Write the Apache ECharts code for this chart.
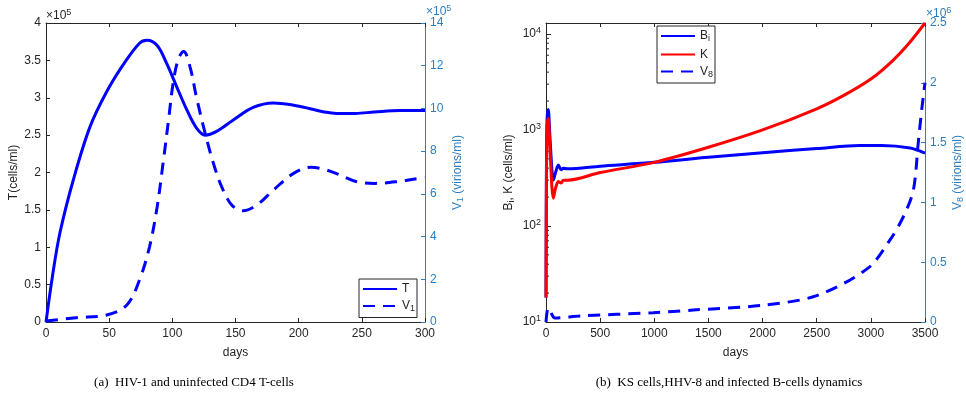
<!DOCTYPE html>
<html>
<head>
<meta charset="utf-8">
<script src="https://cdn.jsdelivr.net/npm/echarts@6/dist/echarts.min.js"></script>
<style>
html,body{margin:0;padding:0;background:#fff;}
#c{width:966px;height:401px;}
</style>
</head>
<body>
<div id="c"></div>
<script>
// ---------- Panel (a) data ----------
const A_X_TICKS = [0, 300, 50];            // min, max, interval (days)
const T_DAYS  = [0, 5, 11, 21.6, 34.8, 48, 61, 74, 80, 88, 95.5, 103.4, 111.4, 119.3, 126, 135, 148, 164, 180, 196, 210, 220, 230, 245, 260, 280, 300];
const T_VALS  = [0, 0.6, 1.19, 1.90, 2.61, 3.08, 3.44, 3.73, 3.77, 3.70, 3.46, 3.15, 2.84, 2.59, 2.50, 2.55, 2.70, 2.87, 2.93, 2.90, 2.85, 2.81, 2.79, 2.79, 2.81, 2.83, 2.83]; // x1e5 cells/ml
const V1_DAYS = [0, 24, 48, 64, 74, 82, 88, 93, 97, 101, 105, 109, 114, 119, 126, 132.5, 139, 147, 156, 167, 180, 196, 210, 220, 230, 246, 260, 278, 292, 300];
const V1_VALS = [0.05, 0.2, 0.33, 0.8, 1.97, 3.53, 5.4, 7.59, 9.46, 11.33, 12.35, 12.66, 11.95, 10.55, 8.83, 7.43, 6.34, 5.48, 5.21, 5.48, 6.18, 6.96, 7.25, 7.15, 6.95, 6.57, 6.49, 6.57, 6.70, 6.75]; // x1e5 virions/ml

// ---------- Panel (b) data ----------
const B_DAYS  = [0, 4, 10, 21, 35, 55, 68, 85, 114, 140, 160, 200, 500, 1000, 1500, 2000, 2500, 2900, 3100, 3362, 3500];
const BI_VALS = [18, 400, 1300, 1630, 900, 380, 302, 350, 431, 385, 400, 395, 420, 460, 520, 580, 640, 690, 690, 650, 575];
const K_DAYS  = [0, 4, 10, 21, 35, 55, 68, 85, 114, 140, 160, 200, 500, 1000, 1500, 2000, 2500, 2750, 3000, 3200, 3350, 3500];
const K_VALS  = [18, 300, 1100, 1320, 700, 250, 195, 240, 290, 280, 300, 300, 360, 460, 660, 1000, 1660, 2290, 3390, 5250, 7940, 13000];
const V8_DAYS = [0, 20, 50, 83, 314, 990, 1360, 2000, 2500, 2974, 3177, 3300, 3392, 3438, 3469, 3500];
const V8_VALS = [0.0, 0.117, 0.07, 0.033, 0.05, 0.078, 0.1, 0.14, 0.22, 0.45, 0.686, 0.88, 1.1, 1.5, 1.77, 2.0]; // x1e6 virions/ml
const LOG_MINOR = [20,30,40,50,60,70,80,90,200,300,400,500,600,700,800,900,2000,3000,4000,5000,6000,7000,8000,9000];

const CAPTION_A = '(a)  HIV-1 and uninfected CD4 T-cells';
const CAPTION_B = '(b)  KS cells,HHV-8 and infected B-cells dynamics';

const zip = (xs, ys) => xs.map((x, i) => [x, ys[i]]);

const INK = '#262626';
const AXBLUE = '#2A7FC2';
const FONT = 'Liberation Sans';
const FS = 12;
const subRich = c => ({s: {color: c, fontSize: 9, fontFamily: FONT, verticalAlign: 'bottom', padding: [6,0,0,0]}});

function xAxisBase(grid, top, min, max, interval) {
  return {
    type: 'value', gridIndex: grid, position: top ? 'top' : 'bottom',
    min: min, max: max, interval: interval,
    axisLine: {show: true, onZero: false, lineStyle: {color: INK, width: 1}},
    axisTick: {show: true, inside: true, length: 4, lineStyle: {color: INK}},
    axisLabel: {show: !top, color: INK, fontSize: FS, fontFamily: FONT, margin: 6, formatter: v => String(v)},
    splitLine: {show: false},
    name: top ? '' : 'days', nameLocation: 'middle', nameGap: 25,
    nameTextStyle: {color: INK, fontSize: FS, fontFamily: FONT}
  };
}

const legendCommon = {
  orient: 'vertical', itemWidth: 34, itemHeight: 12, padding: [4, 2, 4, 3],
  borderColor: INK, borderWidth: 1, backgroundColor: '#fff',
  itemStyle: {opacity: 0},
  textStyle: {color: INK, fontSize: FS, fontFamily: FONT, rich: subRich(INK)}
};

const option = {
  animation: false,
  backgroundColor: '#fff',
  grid: [
    {left: 46, top: 23, width: 379, height: 299},
    {left: 546, top: 23, width: 379, height: 299}
  ],
  xAxis: [
    xAxisBase(0, false, A_X_TICKS[0], A_X_TICKS[1], A_X_TICKS[2]),
    xAxisBase(0, true, A_X_TICKS[0], A_X_TICKS[1], A_X_TICKS[2]),
    xAxisBase(1, false, 0, 3500, 500),
    xAxisBase(1, true, 0, 3500, 500)
  ],
  yAxis: [
    {
      type: 'value', gridIndex: 0, position: 'left', min: 0, max: 4, interval: 0.5,
      axisLine: {show: true, onZero: false, lineStyle: {color: INK}},
      axisTick: {show: true, inside: true, length: 4, lineStyle: {color: INK}},
      axisLabel: {color: INK, fontSize: FS, fontFamily: FONT, margin: 5},
      splitLine: {show: false},
      name: 'T(cells/ml)', nameLocation: 'middle', nameGap: 26, nameRotate: 90,
      nameTextStyle: {color: INK, fontSize: FS, fontFamily: FONT}
    },
    {
      type: 'value', gridIndex: 0, position: 'right', min: 0, max: 14, interval: 2,
      axisLine: {show: true, onZero: false, lineStyle: {color: AXBLUE}},
      axisTick: {show: true, inside: true, length: 4, lineStyle: {color: AXBLUE}},
      axisLabel: {color: AXBLUE, fontSize: FS, fontFamily: FONT, margin: 5},
      splitLine: {show: false},
      name: 'V{s|1} (virions/ml)', nameLocation: 'middle', nameGap: 25, nameRotate: 90,
      nameTextStyle: {color: AXBLUE, fontSize: FS, fontFamily: FONT, rich: subRich(AXBLUE)}
    },
    {
      type: 'log', logBase: 10, gridIndex: 1, position: 'left', min: 10, max: 13000,
      axisLine: {show: true, onZero: false, lineStyle: {color: INK}},
      axisTick: {show: true, inside: true, length: 5, lineStyle: {color: INK}},
      axisLabel: {color: INK, fontSize: FS, fontFamily: FONT, margin: 5, showMaxLabel: false,
        formatter: function (v) {
          const e = Math.round(Math.log10(v));
          if (Math.abs(Math.pow(10, e) - v) > 1e-6 * v) return '';
          return '10{p|' + e + '}';
        },
        rich: {p: {color: INK, fontSize: 9, fontFamily: FONT, verticalAlign: 'top', padding: [0,0,7,0]}}
      },
      splitLine: {show: false},
      name: 'B{s|i}, K (cells/ml)', nameLocation: 'middle', nameGap: 30, nameRotate: 90,
      nameTextStyle: {color: INK, fontSize: FS, fontFamily: FONT, rich: subRich(INK)}
    },
    {
      type: 'value', gridIndex: 1, position: 'right', min: 0, max: 2.5, interval: 0.5,
      axisLine: {show: true, onZero: false, lineStyle: {color: AXBLUE}},
      axisTick: {show: true, inside: true, length: 4, lineStyle: {color: AXBLUE}},
      axisLabel: {color: AXBLUE, fontSize: FS, fontFamily: FONT, margin: 5},
      splitLine: {show: false},
      name: 'V{s|8} (virions/ml)', nameLocation: 'middle', nameGap: 25, nameRotate: 90,
      nameTextStyle: {color: AXBLUE, fontSize: FS, fontFamily: FONT, rich: subRich(AXBLUE)}
    }
  ],
  legend: [
    Object.assign({}, legendCommon, {
      data: ['T', 'V1'], left: 359, top: 279, itemGap: 5,
      formatter: n => n === 'V1' ? 'V{s|1}' : n
    }),
    Object.assign({}, legendCommon, {
      data: ['Bi', 'K', 'V8'], left: 657, top: 26, itemGap: 5,
      formatter: n => n === 'Bi' ? 'B{s|i}' : (n === 'V8' ? 'V{s|8}' : n)
    })
  ],
  series: [
    {name: 'T', type: 'line', xAxisIndex: 0, yAxisIndex: 0, data: zip(T_DAYS, T_VALS),
     symbol: 'none', smooth: 0.35, lineStyle: {color: '#0000FF', width: 3}, itemStyle: {color: '#0000FF'}},
    {name: 'V1', type: 'line', xAxisIndex: 0, yAxisIndex: 1, data: zip(V1_DAYS, V1_VALS),
     symbol: 'none', smooth: 0.35, lineStyle: {color: '#0000FF', width: 3, type: [12, 8]}, itemStyle: {color: '#0000FF'}},
    {name: 'Bi', type: 'line', xAxisIndex: 2, yAxisIndex: 2, data: zip(B_DAYS, BI_VALS),
     symbol: 'none', smooth: 0.3, lineStyle: {color: '#0000FF', width: 3}, itemStyle: {color: '#0000FF'}},
    {name: 'K', type: 'line', xAxisIndex: 2, yAxisIndex: 2, data: zip(K_DAYS, K_VALS),
     symbol: 'none', smooth: 0.3, lineStyle: {color: '#FF0000', width: 3}, itemStyle: {color: '#FF0000'}},
    {name: 'V8', type: 'line', xAxisIndex: 2, yAxisIndex: 3, data: zip(V8_DAYS, V8_VALS),
     symbol: 'none', smooth: 0.3, lineStyle: {color: '#0000FF', width: 3, type: [12, 8]}, itemStyle: {color: '#0000FF'}},
    {name: 'minor', type: 'custom', xAxisIndex: 2, yAxisIndex: 2, silent: true,
     data: LOG_MINOR.map(v => [0, v]), encode: {x: 0, y: 1},
     renderItem: function (params, api) {
       const p = api.coord([api.value(0), api.value(1)]);
       return {type: 'line', shape: {x1: p[0], y1: p[1], x2: p[0] + 3, y2: p[1]},
               style: {stroke: INK, lineWidth: 1}};
     }}
  ],
  graphic: [
    {type: 'text', left: 46, top: 8, style: {text: '×10{p|5}', fill: INK, fontSize: FS, fontFamily: FONT,
      rich: {p: {fill: INK, fontSize: 9, fontFamily: FONT, verticalAlign: 'top', padding: [0,0,7,0]}}}},
    {type: 'text', left: 426, top: 4, style: {text: '×10{p|5}', fill: AXBLUE, fontSize: FS, fontFamily: FONT,
      rich: {p: {fill: AXBLUE, fontSize: 9, fontFamily: FONT, verticalAlign: 'top', padding: [0,0,7,0]}}}},
    {type: 'text', left: 926, top: 6, style: {text: '×10{p|6}', fill: AXBLUE, fontSize: FS, fontFamily: FONT,
      rich: {p: {fill: AXBLUE, fontSize: 9, fontFamily: FONT, verticalAlign: 'top', padding: [0,0,7,0]}}}},
    {type: 'text', x: 194, y: 383, style: {text: CAPTION_A, fill: '#000', fontSize: 13, fontFamily: 'Liberation Serif', align: 'center', verticalAlign: 'middle'}},
    {type: 'text', x: 729, y: 383, style: {text: CAPTION_B, fill: '#000', fontSize: 13, fontFamily: 'Liberation Serif', align: 'center', verticalAlign: 'middle'}}
  ]
};

const chart = echarts.init(document.getElementById('c'), null, {renderer: 'canvas'});
chart.setOption(option);
</script>
</body>
</html>
